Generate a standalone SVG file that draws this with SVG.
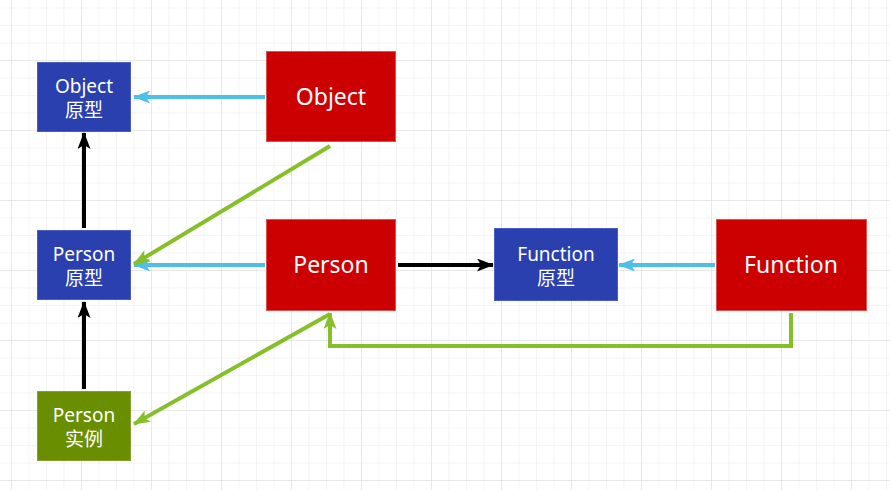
<svg xmlns="http://www.w3.org/2000/svg" width="890" height="490" viewBox="0 0 890 490">
<defs>
<pattern id="minor" x="11" y="7.5" width="17.5" height="17.5" patternUnits="userSpaceOnUse">
<path d="M0 0H17.5M0 0V17.5" fill="none" stroke="#e9e9e9" stroke-width="1"/>
</pattern>
<pattern id="major" x="11" y="-10" width="70" height="70" patternUnits="userSpaceOnUse">
<path d="M0 0H70M0 0V70" fill="none" stroke="#dcdcdc" stroke-width="1"/>
</pattern>
<marker id="ab" viewBox="0 0 17 13" refX="16" refY="6.5" markerWidth="17" markerHeight="13" markerUnits="userSpaceOnUse" orient="auto">
<path d="M0 0L17 6.5L0 13L4 6.5Z" fill="#4dc0ea"/>
</marker>
<marker id="ak" viewBox="0 0 17 13" refX="16" refY="6.5" markerWidth="17" markerHeight="13" markerUnits="userSpaceOnUse" orient="auto">
<path d="M0 0L17 6.5L0 13L4 6.5Z" fill="#000"/>
</marker>
<marker id="ag" viewBox="0 0 17 13" refX="16" refY="6.5" markerWidth="17" markerHeight="13" markerUnits="userSpaceOnUse" orient="auto">
<path d="M0 0L17 6.5L0 13L4 6.5Z" fill="#86bf2a"/>
</marker>
</defs>
<style>
text{font-family:"Noto Sans","Noto Sans CJK SC",sans-serif;fill:#fff;text-anchor:middle}
.s{font-size:19px}
.l{font-size:23px}
.blue{fill:#2a40ae;stroke:#4a5ec0;stroke-width:1}
.red{fill:#cc0000;stroke:#e05050;stroke-width:1}
.green{fill:#698f00;stroke:#86a030;stroke-width:1}
.cb{stroke:#4dc0ea;stroke-width:4;fill:none}
.ck{stroke:#000;stroke-width:4;fill:none}
.cg{stroke:#86bf2a;stroke-width:4;fill:none}
</style>
<rect width="890" height="490" fill="#fff"/>
<rect width="890" height="490" fill="url(#minor)"/>
<rect width="890" height="490" fill="url(#major)"/>
<g id="connectors">
<path class="cb" d="M265 97H134" marker-end="url(#ab)"/>
<path class="cb" d="M265 265H134" marker-end="url(#ab)"/>
<path class="cb" d="M715 265H619" marker-end="url(#ab)"/>
<path class="ck" d="M398 265H493" marker-end="url(#ak)"/>
<path class="ck" d="M84 228V133" marker-end="url(#ak)"/>
<path class="ck" d="M84 389V302" marker-end="url(#ak)"/>
<path class="cg" d="M330 146L134 264" marker-end="url(#ag)"/>
<path class="cg" d="M330 314L134 424" marker-end="url(#ag)"/>
<path class="cg" d="M791 313V346H330V313" marker-end="url(#ag)"/>
</g>
<g id="object-proto">
<rect class="blue" x="37.5" y="62.5" width="93" height="69"/>
<text class="s" x="84" y="93">Object</text>
<text class="s" x="84" y="117">原型</text>
</g>
<g id="object">
<rect class="red" x="266.5" y="51.5" width="129" height="90"/>
<text class="l" x="331" y="105">Object</text>
</g>
<g id="person-proto">
<rect class="blue" x="37.5" y="230.5" width="93" height="69"/>
<text class="s" x="84" y="261">Person</text>
<text class="s" x="84" y="285">原型</text>
</g>
<g id="person">
<rect class="red" x="266.5" y="219.5" width="129" height="91"/>
<text class="l" x="331" y="273">Person</text>
</g>
<g id="function-proto">
<rect class="blue" x="494.5" y="228.5" width="123" height="72"/>
<text class="s" x="556" y="261">Function</text>
<text class="s" x="556" y="285">原型</text>
</g>
<g id="function">
<rect class="red" x="716.5" y="219.5" width="150" height="91"/>
<text class="l" x="791" y="273">Function</text>
</g>
<g id="person-instance">
<rect class="green" x="37.5" y="391.5" width="93" height="69"/>
<text class="s" x="84" y="422">Person</text>
<text class="s" x="84" y="446">实例</text>
</g>
</svg>
